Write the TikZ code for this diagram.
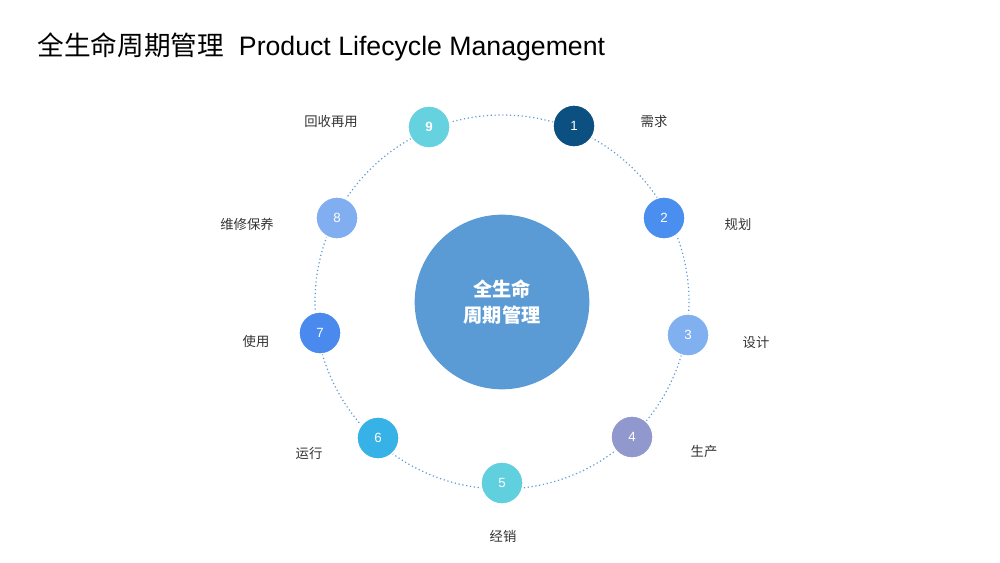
\documentclass[tikz,border=0pt]{standalone}
\usepackage{fontspec}
\setmainfont{Liberation Sans}
\newfontfamily\cjk{Noto Sans CJK SC}
\definecolor{cA}{HTML}{0B5080}
\definecolor{cB}{HTML}{4A8FEF}
\definecolor{cC}{HTML}{80B0F0}
\definecolor{cD}{HTML}{9198CE}
\definecolor{cE}{HTML}{60CFDE}
\definecolor{cF}{HTML}{36B2E6}
\definecolor{cG}{HTML}{4A8AEE}
\definecolor{cH}{HTML}{80AEF0}
\definecolor{cI}{HTML}{66D1DF}
\definecolor{hub}{HTML}{5B9BD5}
\tikzset{every picture/.style={line width=0.75pt}}
\tikzset{
  stage/.style={circle, draw=white, line width=1pt, minimum size=31.5pt, inner sep=0pt, text=white, font=\normalsize},
  lbl/.style={inner sep=0.75pt, font=\cjk\normalsize, text=black!80}
}
\begin{document}
\begin{tikzpicture}[x=0.75pt,y=0.75pt,yscale=-1,xscale=1]
\useasboundingbox (0,0) rectangle (1000,563);

% ring
\draw [color=hub, dotted, line width=0.9pt] (502,302) circle [radius=187];
% hub
\node [circle, fill=hub, minimum size=131pt, inner sep=0pt, text=white, align=center, font=\cjk\Large\bfseries] (hub) at (502,302) {全生命\\[2pt]周期管理};

% stages
\node [stage, fill=cA] (s1) at (574,126) {1};
\node [stage, fill=cB] (s2) at (664,218) {2};
\node [stage, fill=cC] (s3) at (688,335) {3};
\node [stage, fill=cD] (s4) at (632,437) {4};
\node [stage, fill=cE] (s5) at (502,483) {5};
\node [stage, fill=cF] (s6) at (378,438) {6};
\node [stage, fill=cG] (s7) at (320,333) {7};
\node [stage, fill=cH] (s8) at (337,218) {8};
\node [stage, fill=cI, font=\normalsize\bfseries] (s9) at (429,127) {9};

% Text Node
\node [lbl] (t1) at (654,121) {需求};
\node [lbl] (t2) at (738,224) {规划};
\node [lbl] (t3) at (756,342) {设计};
\node [lbl] (t4) at (704,451) {生产};
\node [lbl] (t5) at (503,536) {经销};
\node [lbl] (t6) at (309,453) {运行};
\node [lbl] (t7) at (256,341) {使用};
\node [lbl] (t8) at (247,224) {维修保养};
\node [lbl] (t9) at (331,121) {回收再用};

% Title
\node [anchor=west, inner sep=0pt, font=\fontsize{20}{24}\selectfont] (title) at (37,47) {{\cjk 全生命周期管理}\ \ Product Lifecycle Management};
\end{tikzpicture}
\end{document}
